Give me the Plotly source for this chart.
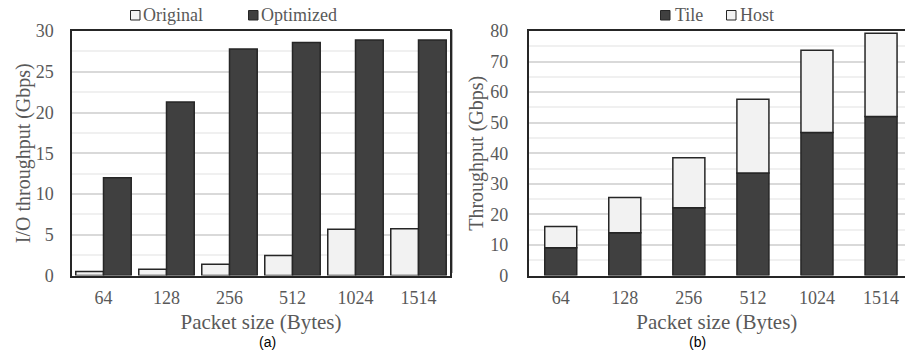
import plotly.graph_objects as go

# ---------------- data ----------------
packet_sizes = ["64", "128", "256", "512", "1024", "1514"]
original = [0.5, 0.77, 1.38, 2.45, 5.67, 5.75]
optimized = [12.0, 21.3, 27.8, 28.6, 28.9, 28.9]
tile = [9.1, 14.0, 22.2, 33.5, 46.8, 52.0]
host = [6.9, 11.5, 16.3, 24.2, 26.9, 27.3]  # stacked on top of tile
legend_left = ["Original", "Optimized"]
legend_right = ["Tile", "Host"]

DARK = "#404040"
LIGHT = "#f2f2f2"
EDGE = "#262626"
TXT = "#595959"
SERIF = "Liberation Serif"

W, H = 905, 352

fig = go.Figure()

# left panel (a)
fig.add_trace(go.Bar(x=packet_sizes, y=original, name=legend_left[0], width=0.44, offset=-0.44,
                     marker=dict(color=LIGHT, line=dict(color=EDGE, width=1.5)),
                     xaxis="x", yaxis="y", showlegend=False))
fig.add_trace(go.Bar(x=packet_sizes, y=optimized, name=legend_left[1], width=0.44, offset=0.0,
                     marker=dict(color=DARK, line=dict(color=EDGE, width=1.5)),
                     xaxis="x", yaxis="y", showlegend=False))

# right panel (b) stacked
fig.add_trace(go.Bar(x=packet_sizes, y=tile, name=legend_right[0], width=0.5, offset=-0.25,
                     marker=dict(color=DARK, line=dict(color=EDGE, width=1.5)),
                     xaxis="x2", yaxis="y2", showlegend=False))
fig.add_trace(go.Bar(x=packet_sizes, y=host, base=tile, name=legend_right[1], width=0.5, offset=-0.25,
                     marker=dict(color=LIGHT, line=dict(color=EDGE, width=1.5)),
                     xaxis="x2", yaxis="y2", showlegend=False))

ydom = [1 - 275.5 / H, 1 - 31 / H]

xcommon = dict(
    tickfont=dict(family=SERIF, size=18, color=TXT),
    linecolor=EDGE, linewidth=1.5, showline=True,
    ticks="", zeroline=False, ticklabelstandoff=5, showgrid=False, type="category",
    title=dict(text="Packet size (Bytes)", font=dict(family=SERIF, size=21, color=TXT), standoff=7),
)
ycommon = dict(
    tickfont=dict(family=SERIF, size=18, color=TXT),
    linecolor=EDGE, linewidth=1.5, showline=True,
    ticks="", zeroline=False,
    showgrid=True, gridcolor="#d9d9d9", gridwidth=1.5,
)

fig.update_layout(
    width=W, height=H,
    margin=dict(l=0, r=0, t=0, b=0, autoexpand=False),
    paper_bgcolor="white", plot_bgcolor="white",
    barmode="overlay",
    font=dict(family=SERIF, color=TXT),
    showlegend=False,
    xaxis=dict(domain=[72 / W, 450 / W], range=[-0.5, 5.5], mirror=True, anchor="y", **xcommon),
    yaxis=dict(domain=ydom, range=[0, 30], dtick=5, mirror=True, anchor="x", ticklabelstandoff=13,
               minor=dict(dtick=2.5, showgrid=True, gridcolor="#f0f0f0", gridwidth=1.5),
               title=dict(text="I/O throughput (Gbps)", font=dict(family=SERIF, size=20, color=TXT), standoff=0),
               **ycommon),
    xaxis2=dict(domain=[528.7 / W, 1.0], range=[-0.5, 5.374], mirror=True, anchor="y2", **xcommon),
    yaxis2=dict(domain=ydom, range=[0, 80], dtick=10, mirror=False, anchor="x2", ticklabelstandoff=15,
                minor=dict(dtick=5, showgrid=True, gridcolor="#f0f0f0", gridwidth=1.5),
                title=dict(text="Throughput (Gbps)", font=dict(family=SERIF, size=20, color=TXT), standoff=1),
                **ycommon),
)

# thin separator line between panels
fig.add_shape(type="line", xref="paper", yref="paper",
              x0=452.5 / W, x1=452.5 / W, y0=1 - 30 / H, y1=1 - 273 / H,
              line=dict(color="#b0b0b0", width=1))

# legends (drawn as swatches + text)
legend_items = [
    (legend_left[0], LIGHT, 130.5, 141),
    (legend_left[1], DARK, 248.5, 259),
    (legend_right[0], DARK, 660.5, 673),
    (legend_right[1], LIGHT, 726.5, 738),
]
for label, col, sx, tx in legend_items:
    fig.add_shape(type="rect", xref="paper", yref="paper",
                  x0=sx / W, x1=(sx + 9.5) / W, y0=1 - 20 / H, y1=1 - 10.5 / H,
                  fillcolor=col, line=dict(color=EDGE, width=1))
    fig.add_annotation(text=label, xref="paper", yref="paper", x=tx / W, y=1 - 15 / H,
                       xanchor="left", yanchor="middle", showarrow=False,
                       font=dict(family=SERIF, size=18, color=TXT))

# sub-figure captions
fig.add_annotation(text="(a)", xref="paper", yref="paper", x=257 / W, y=1 - 341.5 / H,
                   showarrow=False, yanchor="middle",
                   font=dict(family="Liberation Sans", size=14, color="#000000"))
fig.add_annotation(text="(b)", xref="paper", yref="paper", x=708 / W, y=1 - 341.5 / H,
                   showarrow=False, yanchor="middle",
                   font=dict(family="Liberation Sans", size=14, color="#000000"))

fig.write_html("out.html", config={"displayModeBar": False},
               post_script="document.body.style.margin='0';document.body.style.overflow='hidden';")
